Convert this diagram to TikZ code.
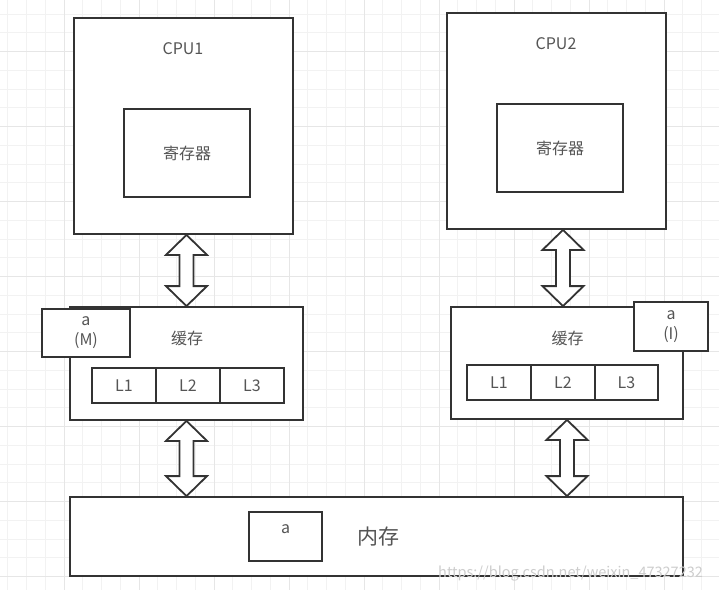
\documentclass[tikz,border=0pt]{standalone}
\usepackage{fontspec}
\newfontfamily\cjk{Noto Sans CJK SC}
\usetikzlibrary{calc}
\definecolor{linec}{RGB}{51,51,51}
\definecolor{textc}{RGB}{85,85,85}
\definecolor{gridminor}{RGB}{242,242,242}
\definecolor{gridmajor}{RGB}{230,230,230}
\definecolor{markc}{RGB}{205,205,205}

% block arrow with a head at both ends, x taken from the first point
\newcommand{\busarrow}[2]{%
  \draw[bus] let \p1=(#1), \p2=(#2) in
    (\x1,\y1) -- (\x1+20.5pt,\y1-20pt) -- (\x1+7pt,\y1-20pt) -- (\x1+7pt,\y2+20pt)
    -- (\x1+20.5pt,\y2+20pt) -- (\x1,\y2) -- (\x1-20.5pt,\y2+20pt) -- (\x1-7pt,\y2+20pt)
    -- (\x1-7pt,\y1-20pt) -- (\x1-20.5pt,\y1-20pt) -- cycle;}

\begin{document}
\begin{tikzpicture}[x=1pt,y=-1pt,
    box/.style={draw=linec,fill=white,line width=1.8pt,inner sep=0pt,
      text=textc,font=\cjk\fontsize{16}{20}\selectfont,align=center},
    txt/.style={text=textc,font=\cjk\fontsize{16}{20}\selectfont,inner sep=0pt},
    bus/.style={draw=linec,fill=white,line width=1.8pt,line join=miter}]
    \fill[white] (0,0) rectangle (719,590);
    \useasboundingbox (0,0) rectangle (719,590);
    % grid
    \foreach \i in {0,...,38} \draw[gridminor,line width=1pt] ({7.8+18.75*\i},0) -- ({7.8+18.75*\i},590);
    \foreach \i in {0,...,31} \draw[gridminor,line width=1pt] (0,{14.2+18.75*\i}) -- (719,{14.2+18.75*\i});
    \foreach \i in {0,...,9} \draw[gridmajor,line width=1pt] ({-10.7+75*\i},0) -- ({-10.7+75*\i},590);
    \foreach \i in {0,...,7} \draw[gridmajor,line width=1pt] (0,{51.7+75*\i}) -- (719,{51.7+75*\i});

    % CPU1 side
    \node[box,minimum width=219,minimum height=216] at (183.5,126) (cpu1) {};
    \node[txt] at (183,49) (cpu1name) {CPU1};
    \node[box,minimum width=126,minimum height=88] at (187,153) (reg1) {寄存器};
    \node[box,minimum width=233,minimum height=113] at (186.5,363.5) (cache1) {};
    \node[txt] at (187,338) (cache1name) {缓存};
    \node[box,minimum width=64,minimum height=35] at (124,385.5) (l1a) {L1};
    \node[box,minimum width=64,minimum height=35] at (188,385.5) (l2a) {L2};
    \node[box,minimum width=64,minimum height=35] at (252,385.5) (l3a) {L3};
    \node[box,minimum width=88,minimum height=48] at (86,333) (am) {a\\(M)};

    % CPU2 side
    \node[box,minimum width=219,minimum height=216] at (556.5,121) (cpu2) {};
    \node[txt] at (556,44) (cpu2name) {CPU2};
    \node[box,minimum width=126,minimum height=88] at (560,148) (reg2) {寄存器};
    \node[box,minimum width=232,minimum height=112] at (567,363) (cache2) {};
    \node[txt] at (567.5,338) (cache2name) {缓存};
    \node[box,minimum width=64,minimum height=35] at (499,382.5) (l1b) {L1};
    \node[box,minimum width=64,minimum height=35] at (563,382.5) (l2b) {L2};
    \node[box,minimum width=63,minimum height=35] at (626.5,382.5) (l3b) {L3};
    \node[box,minimum width=74,minimum height=49] at (671,326.5) (ai) {a\\(I)};

    % memory
    \node[box,minimum width=613,minimum height=79] at (376.5,536.5) (mem) {};
    \node[box,minimum width=73,minimum height=49] at (285.5,536.5) (amem) {};
    \node[txt,anchor=base] at (285.5,533) (amemtxt) {a};
    \node[txt,font=\cjk\fontsize{21}{24}\selectfont] at (378,537) (memname) {内存};

    % buses
    \busarrow{cache1.north |- cpu1.south}{cache1.north}
    \busarrow{cache1.south}{cache1.south |- mem.north}
    \busarrow{[xshift=6.5]cpu2.south}{cache2.north}
    \busarrow{cache2.south}{cache2.south |- mem.north}

    \node[anchor=base west,text=markc,font=\cjk\fontsize{14.5}{16}\selectfont,inner sep=0pt]
      at (438,577) (watermark) {https://blog.csdn.net/weixin\_47327232};
\end{tikzpicture}
\end{document}
